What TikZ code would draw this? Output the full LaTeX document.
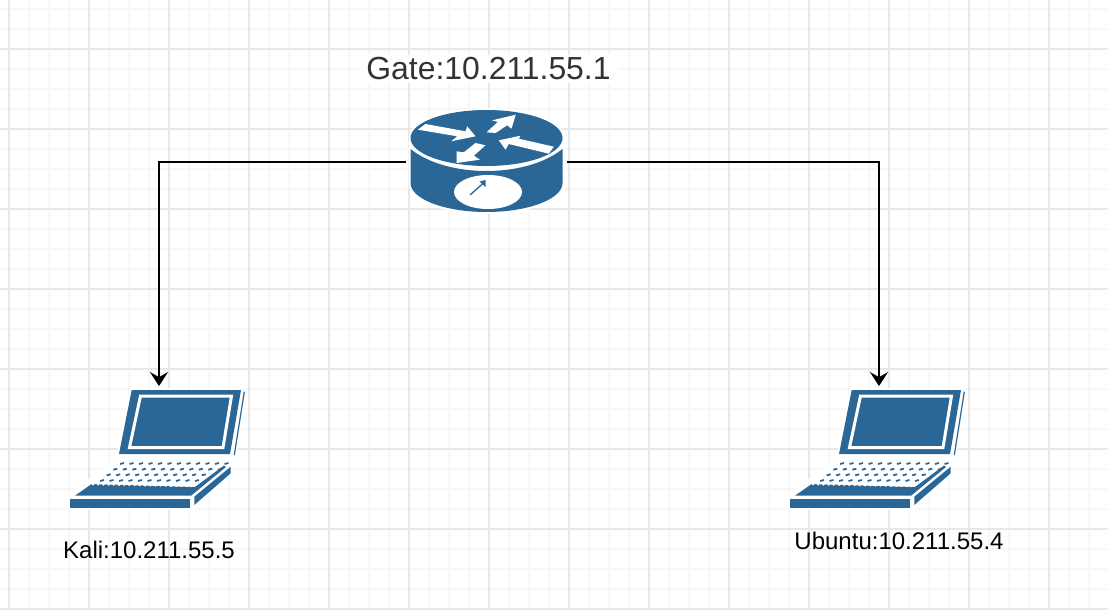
\documentclass[tikz,border=0pt]{standalone}
\usepackage{fontspec}
\setmainfont{Liberation Sans}
\usetikzlibrary{arrows.meta}
\definecolor{iconblue}{HTML}{2A6797}
\definecolor{minorgrid}{HTML}{F7F7F7}
\definecolor{majorgrid}{HTML}{E8E8E8}
\tikzset{
  icon fill/.style={fill=iconblue,draw=none},
  icon halo/.style={fill=white,draw=white,line width=4pt,line join=round},
  router icon/.pic={
    % white edge, then top and body
    \path[icon halo] (-76,-24) arc[start angle=180,end angle=360,x radius=76,y radius=28]
      -- (76,21) arc[start angle=0,end angle=180,x radius=76,y radius=29] -- cycle;
    \path[icon fill] (0,-24) ellipse[x radius=76,y radius=28];
    \path[icon fill] (-76,-13) .. controls (-56,3) and (-26,9) .. (0,9)
      .. controls (26,9) and (56,3) .. (76,-13) -- (76,21)
      arc[start angle=0,end angle=180,x radius=76,y radius=29] -- cycle;
    % arrows on top
    \path[fill=white] (-68.7,-32.3) -- (-61,-38) -- (-21,-30.7) -- (-19.3,-35.7) -- (-11,-25.7) -- (-35.3,-20.7) -- (-29.3,-25.7) -- cycle;
    \path[fill=white] (0,-29.7) -- (11.3,-40) -- (5.7,-41.7) -- (29.3,-47.3) -- (25,-33.3) -- (20.7,-36.7) -- (9,-29) -- cycle;
    \path[fill=white] (67.3,-15.3) -- (32.3,-23.3) -- (34,-26.3) -- (12.3,-21.7) -- (19,-12.3) -- (22.3,-18) -- (62.3,-8.3) -- cycle;
    \path[fill=white] (-1,-16.7) -- (-11,-19) -- (-22.7,-9.7) -- (-30,-10.7) -- (-30,1) -- (-6.7,-2.3) -- (-12.7,-6.3) -- cycle;
    % dial
    \path[fill=white] (1.5,30) ellipse[x radius=34,y radius=17];
    \draw[iconblue,line width=1.3pt] (-16.5,33) -- (-3,21);
    \path[icon fill] (-1,18) -- (-7,19.5) -- (-1,25) -- cycle;
  },
  laptop icon/.pic={
    % white edge
    \path[icon halo] (-27.3,-57) -- (85.3,-57) -- (75.3,8) -- (-40,8) -- cycle;
    \path[icon halo] (-41,12) -- (75,12) -- (72,27) -- (35,61) -- (-89,61) -- (-89,49) -- cycle;
    % lid
    \path[icon fill] (-27.3,-57) -- (82,-57) -- (71,7) -- (-40,7) -- cycle;
    \draw[white,line width=3pt,line join=miter] (-18.5,-51) -- (72.5,-51) -- (64,.5) -- (-29.5,.5) -- cycle;
    \draw[iconblue,line width=1.2pt] (85.3,-55.3) -- (75.3,8);
    % keyboard
    \path[icon fill] (-89,52.3) rectangle (31,60.7);
    \path[icon fill] (-84,48.7) -- (-67.3,37) -- (36,40) -- (65,18.5) -- (67,20) -- (32,48.7) -- cycle;
    \path[icon fill] (35.3,49.7) -- (71.7,19.7) -- (71.7,26.3) -- (35.3,58) -- cycle;
    \foreach \rowy/\rowx/\lastk in {17/-39/11,22.7/-45.7/11,28.3/-52.3/10,34/-59/10}
      \foreach \k in {0,...,\lastk}
        \draw[iconblue,line width=1.8pt] ({\rowx+\k*9.5},\rowy) -- ({\rowx+\k*9.5+4},{\rowy-1});
    \foreach \k in {0,...,19}
      \path[fill=white] ({-66+\k*5.2},{37+\k*0.1}) circle[radius=1.5];
  },
  main node/.style={rectangle,draw=none,inner sep=0pt},
  router node/.style={main node,minimum width=160pt,minimum height=104pt},
  laptop node/.style={main node,minimum width=178pt,minimum height=120pt},
  other node/.style={inner sep=0pt,font=\fontsize{24}{28}\selectfont},
  minor line/.style={minorgrid,line width=1.4pt},
  major line/.style={majorgrid,line width=1.4pt},
}
\begin{document}
\begin{tikzpicture}[x=1pt,y=-1pt,>={Stealth[length=14pt,width=18pt,inset=5pt]},line width=1.8pt]
    \useasboundingbox[fill=white] (0,0) rectangle (1108,610);

    % paper grid
    \foreach \x in {9,29,...,1108} \draw[minor line] (\x,0) -- (\x,610);
    \foreach \y in {9,29,...,610} \draw[minor line] (0,\y) -- (1108,\y);
    \foreach \x in {9,89,...,1108} \draw[major line] (\x,0) -- (\x,610);
    \foreach \y in {49,129,...,610} \draw[major line] (0,\y) -- (1108,\y);

    \node[router node] (gate) at (486.5,162) {};
    \node[laptop node] (kali) at (159,447) {};
    \node[laptop node,right of=kali,node distance=720pt] (ubuntu) {};

    \pic at (gate) {router icon};
    \pic at (kali) {laptop icon};
    \pic at (ubuntu) {laptop icon};

    \node[other node,fill=white,text=black!80,inner xsep=8pt,inner ysep=3pt,font=\fontsize{31.9}{36}\selectfont,above of=gate,node distance=93pt,xshift=2pt] (gatelabel) {Gate:10.211.55.1};
    \node[other node,below of=kali,node distance=103pt,xshift=-10pt] (kalilabel) {Kali:10.211.55.5};
    \node[other node,below of=ubuntu,node distance=94pt,xshift=20pt] (ubuntulabel) {Ubuntu:10.211.55.4};

    \draw[->] (gate.west) -| (kali.north);
    \draw[->] (gate.east) -| (ubuntu.north);
\end{tikzpicture}
\end{document}
